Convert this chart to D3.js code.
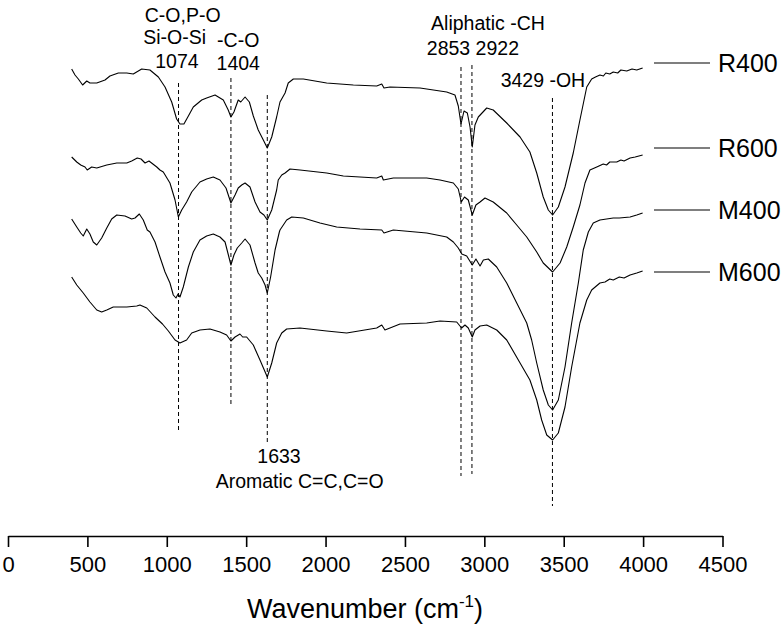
<!DOCTYPE html>
<html><head><meta charset="utf-8">
<script src="https://cdn.jsdelivr.net/npm/d3@7/dist/d3.min.js"></script>
<style>
body{margin:0;background:#fff}
svg{display:block}
text{font-family:"Liberation Sans",Arial,Helvetica,sans-serif;fill:#000}
</style>
</head><body>
<svg id="chart" width="784" height="628"></svg>
<script>
// ---- data (wavenumber cm^-1, transmittance a.u. incl. vertical offset) ----
const seriesNames = ["R400", "R600", "M400", "M600"];
const R400 = [[401,467],[422,461],[443,457],[470,451],[496,455],[516,453],[559,453],[611,456],[642,460],[695,463],[748,463],[789,462],[842,467],[894,466],[947,459],[989,449],[1031,434],[1062,417],[1083,412],[1108,412],[1136,420],[1167,429],[1220,436],[1251,438],[1304,441],[1356,436],[1387,426],[1404,419],[1423,424],[1450,436],[1466,434],[1493,439],[1520,434],[1545,420],[1576,406],[1608,396],[1633,388],[1661,399],[1692,419],[1713,434],[1745,443],[1765,453],[1797,457],[1860,457],[2007,453],[2175,451],[2322,450],[2354,452],[2368,448],[2406,449],[2595,448],[2763,444],[2815,441],[2836,430],[2853,412],[2872,425],[2893,423],[2910,409],[2924,389],[2941,411],[2962,419],[3015,428],[3056,426],[3141,413],[3225,399],[3287,384],[3330,363],[3371,339],[3403,326],[3430,321],[3466,329],[3508,349],[3560,383],[3602,416],[3645,449],[3676,457],[3700,459],[3728,461],[3750,460],[3765,463],[3790,462],[3812,464],[3840,463],[3860,466],[3897,465],[3930,467],[3960,466],[3997,468]];
const R600 = [[401,379],[433,374],[458,371],[485,369],[499,366],[527,369],[559,368],[622,371],[685,373],[748,373],[779,375],[814,378],[838,377],[863,373],[888,375],[937,369],[957,366],[978,364],[1020,353],[1052,336],[1073,319],[1094,326],[1125,334],[1157,344],[1209,354],[1251,357],[1293,359],[1335,356],[1373,348],[1404,333],[1430,341],[1450,348],[1472,351],[1493,353],[1524,349],[1556,334],[1587,324],[1612,321],[1633,316],[1661,326],[1692,346],[1702,356],[1724,361],[1745,363],[1776,367],[1839,366],[2007,363],[2112,360],[2322,358],[2354,360],[2364,356],[2427,358],[2637,358],[2721,356],[2805,353],[2836,347],[2855,334],[2875,339],[2899,336],[2924,321],[2947,331],[2973,334],[3004,338],[3056,334],[3141,323],[3204,311],[3267,299],[3330,284],[3371,273],[3430,264],[3477,273],[3519,289],[3560,309],[3602,331],[3634,353],[3665,366],[3708,369],[3749,372],[3770,371],[3790,374],[3834,374],[3860,376],[3880,375],[3918,378],[3950,379],[3997,381]];
const M400 = [[401,317],[433,309],[458,303],[474,300],[496,307],[516,302],[537,294],[559,291],[590,298],[622,308],[653,317],[685,321],[737,320],[779,317],[800,318],[827,322],[852,316],[877,306],[894,304],[926,294],[957,279],[989,264],[1020,253],[1041,241],[1058,238],[1071,242],[1083,239],[1104,249],[1136,269],[1167,284],[1209,296],[1251,300],[1293,302],[1335,299],[1367,294],[1388,281],[1404,271],[1423,281],[1444,288],[1472,293],[1493,297],[1524,291],[1556,273],[1576,263],[1598,258],[1619,251],[1633,243],[1654,259],[1682,286],[1709,304],[1713,306],[1755,316],[1787,319],[1860,318],[1965,313],[2070,309],[2217,307],[2354,306],[2368,303],[2427,306],[2637,303],[2763,299],[2805,294],[2836,288],[2858,282],[2889,280],[2924,271],[2947,277],[2973,270],[2994,276],[3025,277],[3078,269],[3141,253],[3204,233],[3267,213],[3298,196],[3330,173],[3371,146],[3403,131],[3430,126],[3466,136],[3508,169],[3550,213],[3592,253],[3623,286],[3655,304],[3686,313],[3728,316],[3770,317],[3812,318],[3850,318],[3918,319],[3960,321],[3997,323]];
const M600 = [[401,259],[433,251],[474,243],[516,234],[559,226],[590,224],[622,226],[663,229],[748,229],[811,230],[831,231],[874,228],[926,219],[973,212],[1010,205],[1052,196],[1083,193],[1125,196],[1157,203],[1209,206],[1272,207],[1335,204],[1377,201],[1404,195],[1430,199],[1461,202],[1478,199],[1503,199],[1545,191],[1587,176],[1633,159],[1661,173],[1692,193],[1724,203],[1755,207],[1839,208],[2007,205],[2133,203],[2322,208],[2354,211],[2374,206],[2469,212],[2637,213],[2721,215],[2826,214],[2857,208],[2878,211],[2899,208],[2924,199],[2941,206],[2973,210],[3015,211],[3078,206],[3141,196],[3225,173],[3287,156],[3330,136],[3361,116],[3393,101],[3430,96],[3466,103],[3508,129],[3550,169],[3602,213],[3645,236],[3676,246],[3728,253],[3760,254],[3790,257],[3812,256],[3850,259],[3880,258],[3918,261],[3960,263],[3997,265]];
const xTicks = [0, 500, 1000, 1500, 2000, 2500, 3000, 3500, 4000, 4500];
const peaks = [1074, 1404, 1633, 2853, 2922, 3429];
const peakTop = [453, 458, 441, 469, 471, 438];
const peakBottom = [103, 129, 93, 60, 62, 30];

const allSeries = [R400, R600, M400, M600];

// ---- layout ----
const svg = d3.select("#chart");
const x = d3.scaleLinear().domain([0, 4500]).range([8, 722.5]);
const y = d3.scaleLinear().domain([0, 500]).range([536, 36]);

// axis
const ax = svg.append("g").attr("transform", "translate(0,536)")
  .call(d3.axisBottom(x).tickValues(xTicks).tickSize(11).tickSizeOuter(0).tickFormat(d3.format("d")));
ax.select(".domain").attr("stroke", "#000").attr("stroke-width", 1.6);
ax.selectAll(".tick line").attr("stroke", "#000").attr("stroke-width", 1.6);
ax.selectAll(".tick text").attr("y", 36).attr("dy", 0)
  .style("font-family", '"Liberation Sans",Arial,sans-serif').style("font-size", "22px").attr("fill", "#000");

// axis title
const title = svg.append("text").attr("x", 365).attr("y", 618).attr("text-anchor", "middle")
  .style("font-size", "27px");
title.append("tspan").text("Wavenumber (cm");
title.append("tspan").attr("dy", -11).style("font-size", "17px").text("-1");
title.append("tspan").attr("dy", 11).text(")");

// dashed reference lines
svg.append("g").selectAll("line").data(peaks).join("line")
  .attr("x1", d => x(d)).attr("x2", d => x(d))
  .attr("y1", (d, i) => y(peakTop[i])).attr("y2", (d, i) => y(peakBottom[i]))
  .attr("stroke", "#000").attr("stroke-width", 1).attr("stroke-dasharray", "4,3");

// spectra
const line = d3.line().x(d => x(d[0])).y(d => y(d[1])).curve(d3.curveLinear);
svg.append("g").selectAll("path").data(allSeries).join("path")
  .attr("d", line).attr("fill", "none").attr("stroke", "#000").attr("stroke-width", 1.1)
  .attr("stroke-linejoin", "round");

// legend
const legendY = [63, 148, 210, 272];
const lg = svg.append("g").selectAll("g").data(seriesNames).join("g")
  .attr("transform", (d, i) => `translate(654,${legendY[i]})`);
lg.append("line").attr("x1", 0).attr("x2", 56).attr("stroke", "#000").attr("stroke-width", 1.1);
lg.append("text").attr("x", 64).attr("dy", "0.35em").style("font-size", "25px").text(d => d);

// annotations
const ann = [
  {t: "C-O,P-O", wn: 1100, yb: 22, a: "middle"},
  {t: "Si-O-Si", wn: 1050, yb: 44, a: "middle"},
  {t: "1074", wn: 1064, yb: 68, a: "middle"},
  {t: "-C-O", wn: 1450, yb: 47, a: "middle"},
  {t: "1404", wn: 1450, yb: 70, a: "middle"},
  {t: "Aliphatic -CH", wn: 3023, yb: 29.5, a: "middle"},
  {t: "2853 2922", wn: 2928, yb: 55, a: "middle"},
  {t: "3429 -OH", wn: 3369, yb: 87, a: "middle"},
  {t: "1633", wn: 1707, yb: 463, a: "middle"},
  {t: "Aromatic C=C,C=O", wn: 1308, yb: 488, a: "start"}
];
svg.append("g").selectAll("text").data(ann).join("text")
  .attr("x", d => x(d.wn)).attr("y", d => d.yb).attr("text-anchor", d => d.a)
  .style("font-size", "19.5px").text(d => d.t);
</script>
</body></html>
